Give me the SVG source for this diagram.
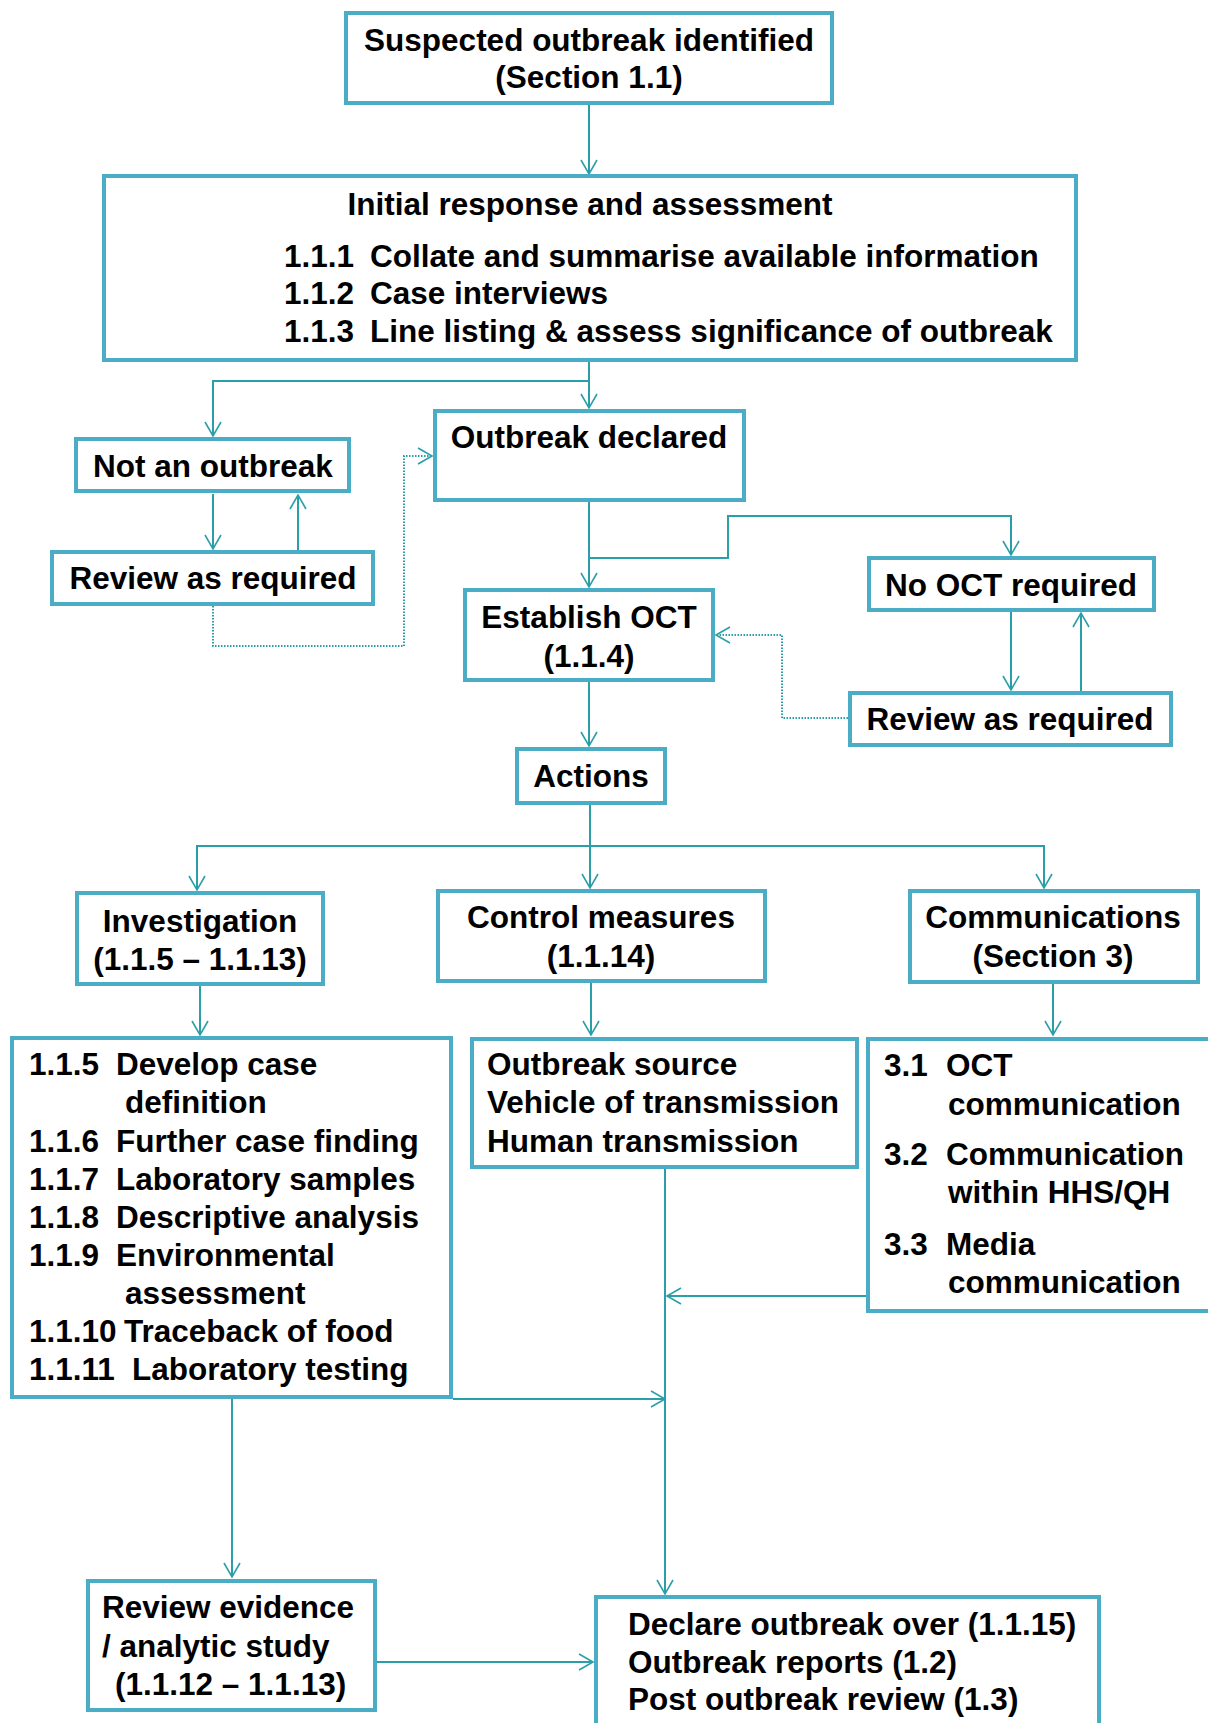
<svg xmlns="http://www.w3.org/2000/svg" width="1208" height="1723" viewBox="0 0 1208 1723">
<style>
.box{fill:#ffffff;stroke:#4bacc6;stroke-width:4}
.t{font-family:"Liberation Sans",Arial,sans-serif;font-weight:bold;font-size:31.5px;fill:#000000}
.c{text-anchor:middle}
.ln{fill:none;stroke:#2a9fa8;stroke-width:2}
.dot{fill:none;stroke:#2a9fa8;stroke-width:2;stroke-dasharray:1.5 1.5}
</style>
<defs>
<marker id="arr" markerUnits="userSpaceOnUse" markerWidth="18" markerHeight="20" refX="15" refY="9" orient="auto">
<path d="M1,1 L15,9 L1,17" fill="none" stroke="#2a9fa8" stroke-width="1.6"/>
</marker>
</defs>
<rect width="1208" height="1723" fill="#ffffff"/>

<g id="connectors">
<path class="ln" d="M589,105 V174" marker-end="url(#arr)"/>
<path class="ln" d="M589,362 V408" marker-end="url(#arr)"/>
<path class="ln" d="M589,381 H213 V436" marker-end="url(#arr)"/>
<path class="ln" d="M213,494 V549" marker-end="url(#arr)"/>
<path class="ln" d="M298,550 V495" marker-end="url(#arr)"/>
<path class="dot" d="M213,606 V646 H404 V456 H432" marker-end="url(#arr)"/>
<path class="ln" d="M589,502 V587" marker-end="url(#arr)"/>
<path class="ln" d="M589,558 H728 V516 H1011 V555" marker-end="url(#arr)"/>
<path class="ln" d="M1011,612 V690" marker-end="url(#arr)"/>
<path class="ln" d="M1081,691 V613" marker-end="url(#arr)"/>
<path class="dot" d="M848,718 H782 V635 H716" marker-end="url(#arr)"/>
<path class="ln" d="M589,682 V746" marker-end="url(#arr)"/>
<path class="ln" d="M590,805 V888" marker-end="url(#arr)"/>
<path class="ln" d="M590,846 H197 V890" marker-end="url(#arr)"/>
<path class="ln" d="M590,846 H1044 V888" marker-end="url(#arr)"/>
<path class="ln" d="M200,986 V1035" marker-end="url(#arr)"/>
<path class="ln" d="M591,983 V1035" marker-end="url(#arr)"/>
<path class="ln" d="M1053,984 V1035" marker-end="url(#arr)"/>
<path class="ln" d="M665,1169 V1594" marker-end="url(#arr)"/>
<path class="ln" d="M866,1296 H667" marker-end="url(#arr)"/>
<path class="ln" d="M453,1399 H665" marker-end="url(#arr)"/>
<path class="ln" d="M232,1399 V1577" marker-end="url(#arr)"/>
<path class="ln" d="M377,1662 H593" marker-end="url(#arr)"/>
</g>

<g id="suspected">
<rect class="box" x="346" y="13" width="486" height="90"/>
<text class="t c" x="589" y="51">Suspected outbreak identified</text>
<text class="t c" x="589" y="88">(Section 1.1)</text>
</g>

<g id="initial">
<rect class="box" x="104" y="176" width="972" height="184"/>
<text class="t c" x="590" y="215">Initial response and assessment</text>
<text class="t" y="267"><tspan x="284">1.1.1</tspan><tspan x="370">Collate and summarise available information</tspan></text>
<text class="t" y="304"><tspan x="284">1.1.2</tspan><tspan x="370">Case interviews</tspan></text>
<text class="t" y="342"><tspan x="284">1.1.3</tspan><tspan x="370">Line listing &amp; assess significance of outbreak</tspan></text>
</g>

<g id="not-outbreak">
<rect class="box" x="76" y="439" width="273" height="52"/>
<text class="t c" x="213" y="477">Not an outbreak</text>
</g>

<g id="outbreak-declared">
<rect class="box" x="435" y="411" width="309" height="89"/>
<text class="t c" x="589" y="448">Outbreak declared</text>
</g>

<g id="review-left">
<rect class="box" x="52" y="552" width="321" height="52"/>
<text class="t c" x="213" y="589">Review as required</text>
</g>

<g id="establish-oct">
<rect class="box" x="465" y="590" width="248" height="90"/>
<text class="t c" x="589" y="628">Establish OCT</text>
<text class="t c" x="589" y="667">(1.1.4)</text>
</g>

<g id="no-oct">
<rect class="box" x="869" y="558" width="285" height="52"/>
<text class="t c" x="1011" y="596">No OCT required</text>
</g>

<g id="review-right">
<rect class="box" x="850" y="693" width="321" height="52"/>
<text class="t c" x="1010" y="730">Review as required</text>
</g>

<g id="actions">
<rect class="box" x="517" y="749" width="148" height="54"/>
<text class="t c" x="591" y="787">Actions</text>
</g>

<g id="investigation">
<rect class="box" x="77" y="893" width="246" height="91"/>
<text class="t c" x="200" y="932">Investigation</text>
<text class="t c" x="200" y="970">(1.1.5 – 1.1.13)</text>
</g>

<g id="control">
<rect class="box" x="438" y="891" width="327" height="90"/>
<text class="t c" x="601" y="928">Control measures</text>
<text class="t c" x="601" y="967">(1.1.14)</text>
</g>

<g id="communications">
<rect class="box" x="910" y="891" width="288" height="91"/>
<text class="t c" x="1053" y="928">Communications</text>
<text class="t c" x="1053" y="967">(Section 3)</text>
</g>

<g id="investigation-list">
<rect class="box" x="12" y="1038" width="439" height="359"/>
<text class="t" y="1075"><tspan x="29">1.1.5</tspan><tspan x="116">Develop case</tspan></text>
<text class="t" x="125" y="1113">definition</text>
<text class="t" y="1152"><tspan x="29">1.1.6</tspan><tspan x="116">Further case finding</tspan></text>
<text class="t" y="1190"><tspan x="29">1.1.7</tspan><tspan x="116">Laboratory samples</tspan></text>
<text class="t" y="1228"><tspan x="29">1.1.8</tspan><tspan x="116">Descriptive analysis</tspan></text>
<text class="t" y="1266"><tspan x="29">1.1.9</tspan><tspan x="116">Environmental</tspan></text>
<text class="t" x="125" y="1304">assessment</text>
<text class="t" y="1342"><tspan x="29">1.1.10</tspan><tspan x="124">Traceback of food</tspan></text>
<text class="t" y="1380"><tspan x="29">1.1.11</tspan><tspan x="132">Laboratory testing</tspan></text>
</g>

<g id="control-list">
<rect class="box" x="472" y="1039" width="385" height="128"/>
<text class="t" x="487" y="1075">Outbreak source</text>
<text class="t" x="487" y="1113">Vehicle of transmission</text>
<text class="t" x="487" y="1152">Human transmission</text>
</g>

<g id="communications-list">
<rect class="box" x="868" y="1039" width="360" height="272"/>
<text class="t" y="1076"><tspan x="884">3.1</tspan><tspan x="946">OCT</tspan></text>
<text class="t" x="948" y="1115">communication</text>
<text class="t" y="1165"><tspan x="884">3.2</tspan><tspan x="946">Communication</tspan></text>
<text class="t" x="948" y="1203">within HHS/QH</text>
<text class="t" y="1255"><tspan x="884">3.3</tspan><tspan x="946">Media</tspan></text>
<text class="t" x="948" y="1293">communication</text>
</g>

<g id="review-evidence">
<rect class="box" x="88" y="1581" width="287" height="129"/>
<text class="t" x="102" y="1618">Review evidence</text>
<text class="t" x="102" y="1657">/ analytic study</text>
<text class="t" x="115" y="1695">(1.1.12 – 1.1.13)</text>
</g>

<g id="declare">
<rect class="box" x="596" y="1597" width="503" height="140"/>
<text class="t" x="628" y="1635">Declare outbreak over (1.1.15)</text>
<text class="t" x="628" y="1673">Outbreak reports (1.2)</text>
<text class="t" x="628" y="1710">Post outbreak review (1.3)</text>
</g>
</svg>
